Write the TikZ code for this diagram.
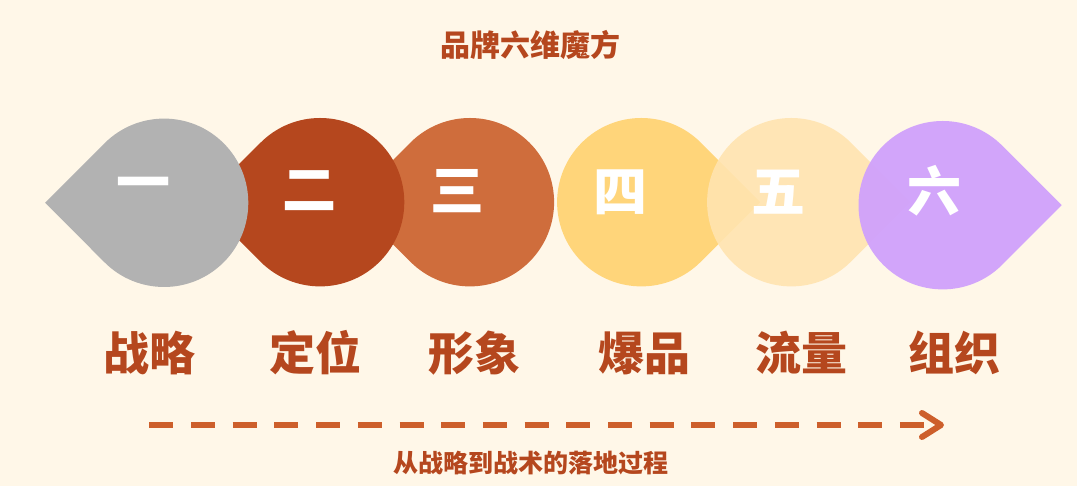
\documentclass[tikz,border=0pt]{standalone}
\usepackage{fontspec}
\newfontfamily\cjk{Noto Sans CJK SC}
\usetikzlibrary{calc,arrows.meta}
\definecolor{bgc}{HTML}{FFF7E8}
\definecolor{cgray}{HTML}{B2B2B2}
\definecolor{cred}{HTML}{B5471E}
\definecolor{corange}{HTML}{CF6D3C}
\definecolor{cyellow}{HTML}{FFD57A}
\definecolor{cpale}{HTML}{FFE4B0}
\definecolor{cpurple}{HTML}{D0A1FC}
\definecolor{ctext}{HTML}{B5471E}
\definecolor{carrow}{HTML}{CD5F2B}
\tikzset{
  numeral/.style={inner sep=0pt, text=white, font=\cjk\bfseries\fontsize{54}{54}\selectfont},
  label/.style={inner sep=0pt, text=ctext, font=\cjk\bfseries\fontsize{46}{46}\selectfont},
  title/.style={inner sep=0pt, text=ctext, font=\cjk\bfseries\fontsize{30}{30}\selectfont},
  note/.style={inner sep=0pt, text=ctext, font=\cjk\bfseries\fontsize{25}{25}\selectfont},
  flow/.style={draw=carrow, line width=6pt, dash pattern=on 24pt off 17.7pt,
    -{Straight Barb[length=19pt, width=24pt, round]}}
}
\begin{document}
\begin{tikzpicture}[x=1pt,y=1pt]
\useasboundingbox (0,0) rectangle (1077,486);
\fill[bgc] (0,0) rectangle (1077,486);
% centres
\coordinate (c1) at (164.1,283.2);
\coordinate (c2) at (320.1,283.8);
\coordinate (c3) at (469.9,283.8);
\coordinate (c4) at (641.3,283.8);
\coordinate (c5) at (791.3,283.8);
\coordinate (c6) at (942.7,280.8);
% left-pointing drops (drawn back to front)
\fill[corange] (c3) ++(180:119) -- ($(c3)+(135:84.2)$) arc[start angle=135, end angle=-135, radius=84.2] -- cycle;
\fill[cred] (c2) ++(180:119) -- ($(c2)+(135:84.2)$) arc[start angle=135, end angle=-135, radius=84.2] -- cycle;
\fill[cgray] (c1) ++(180:119) -- ($(c1)+(135:84.2)$) arc[start angle=135, end angle=-135, radius=84.2] -- cycle;
% right-pointing drops
\fill[cyellow] (c4) ++(0:119) -- ($(c4)+(45:84.2)$) arc[start angle=45, end angle=315, radius=84.2] -- cycle;
\fill[cpale, fill opacity=0.9] (c5) ++(0:119) -- ($(c5)+(45:84.2)$) arc[start angle=45, end angle=315, radius=84.2] -- cycle;
\fill[cpurple, fill opacity=0.95] (c6) ++(0:119) -- ($(c6)+(45:84.2)$) arc[start angle=45, end angle=315, radius=84.2] -- cycle;
% numerals
\node[numeral] (n1) at (143,296) {一};
\node[numeral] (n2) at (309,295) {二};
\node[numeral] (n3) at (457,295.2) {三};
\node[numeral] (n4) at (620.7,293.5) {四};
\node[numeral] (n5) at (778.7,293.5) {五};
\node[numeral] (n6) at (934.8,295) {六};
% labels
\node[label] (l1) at (149,133) {战略};
\node[label] (l2) at (315.5,133) {定位};
\node[label] (l3) at (474.5,133) {形象};
\node[label] (l4) at (644,133) {爆品};
\node[label] (l5) at (801,133) {流量};
\node[label] (l6) at (954,133) {组织};
% title and note
\node[title] (t) at (530,441.5) {品牌六维魔方};
\node[note] (nt) at (530.7,23) {从战略到战术的落地过程};
% arrow
\coordinate (a0) at (149.3,61);
\coordinate (a1) at (944,61);
\draw[flow] (a0) -- (a1);
\end{tikzpicture}
\end{document}
